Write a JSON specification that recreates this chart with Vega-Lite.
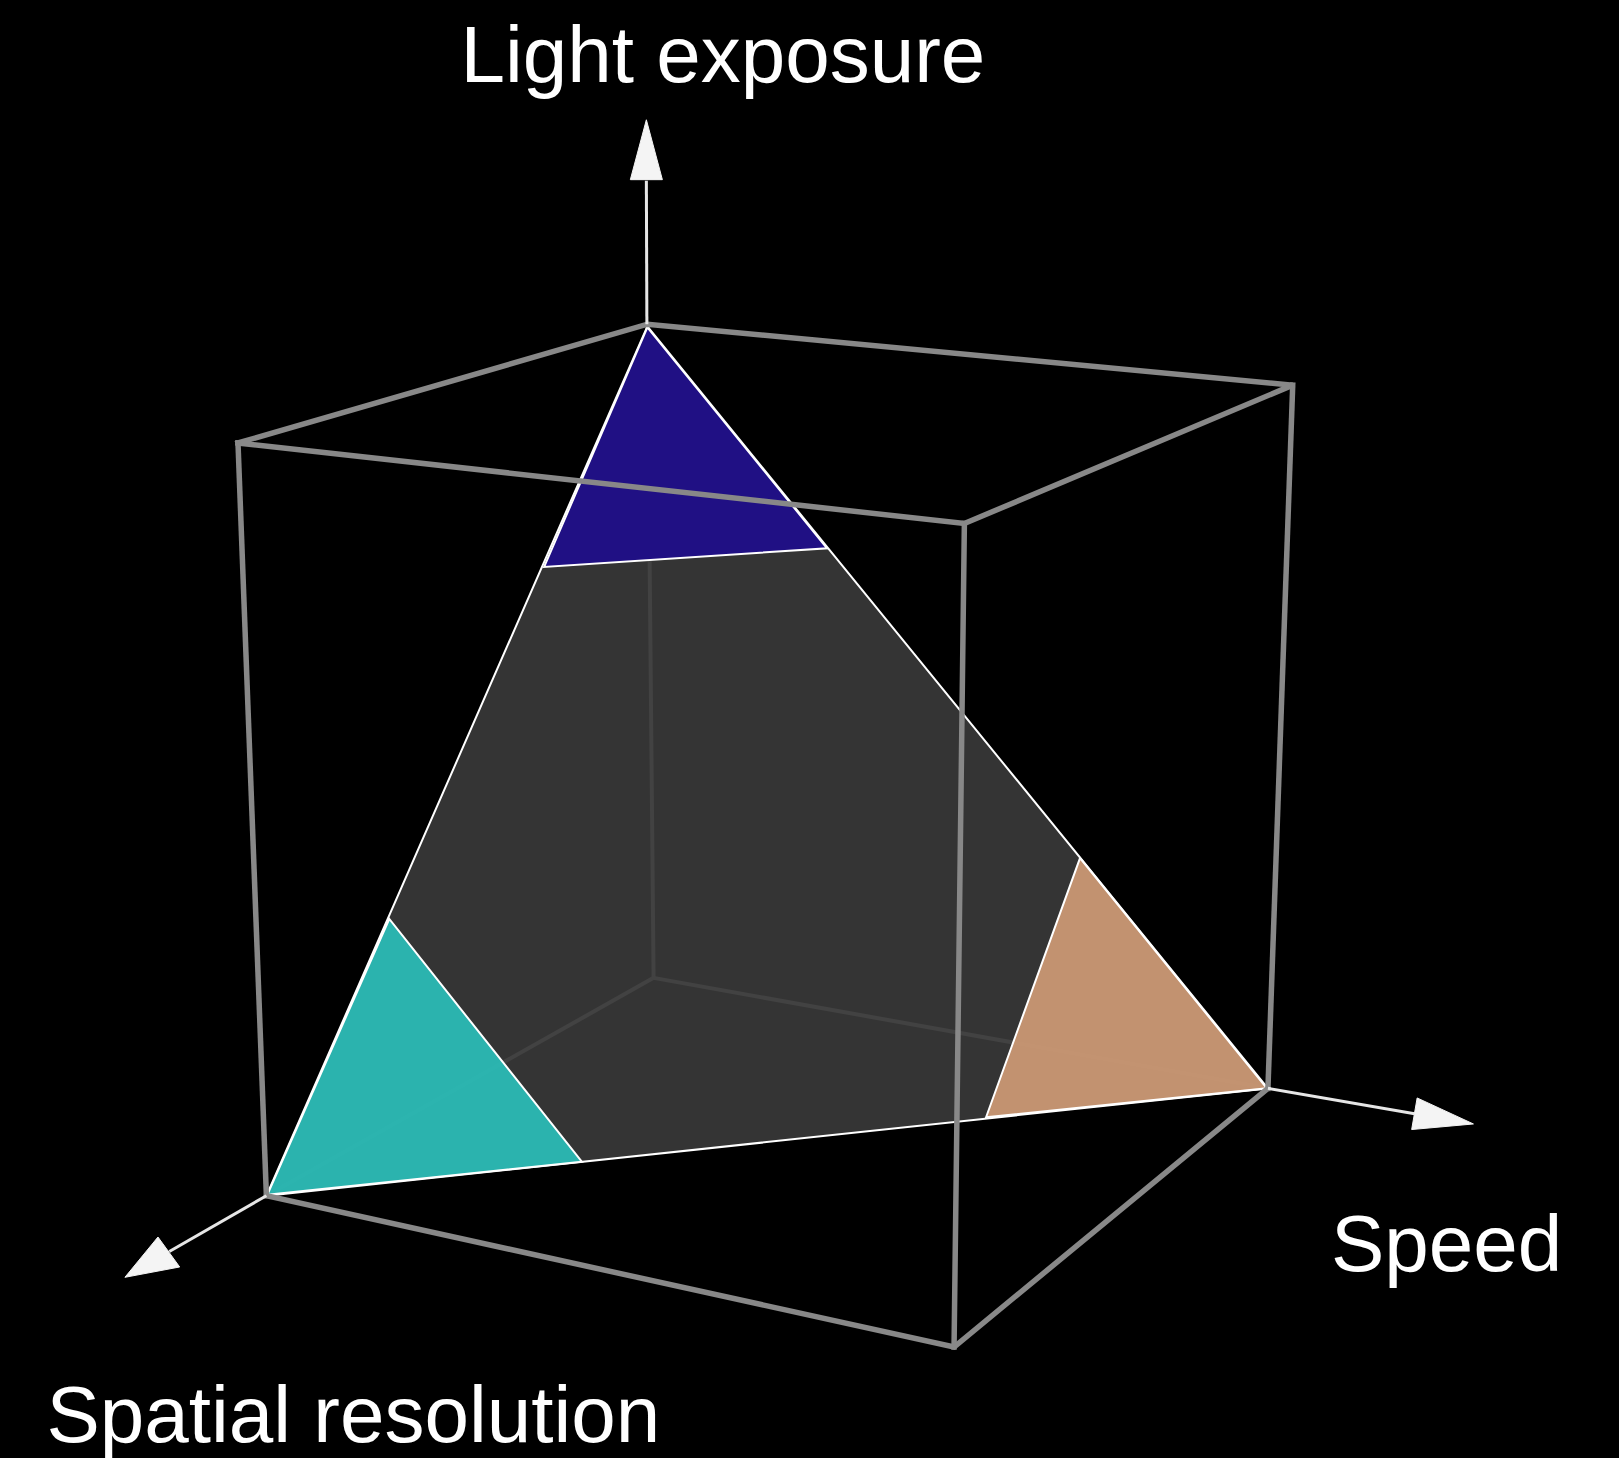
{
  "$schema": "https://vega.github.io/schema/vega-lite/v6.json",
  "width": 1619,
  "height": 1458,
  "padding": 0,
  "autosize": {"type": "none"},
  "background": "#000000",
  "config": {"view": {"stroke": null}},
  "data": {
    "values": [
      {"k": "hidden", "id": "h1", "o": 1, "x": 627, "y": 314},
      {"k": "hidden", "id": "h1", "o": 2, "x": 633, "y": 947},
      {"k": "hidden", "id": "h2", "o": 1, "x": 633, "y": 947},
      {"k": "hidden", "id": "h2", "o": 2, "x": 258, "y": 1158},
      {"k": "hidden", "id": "h3", "o": 1, "x": 633, "y": 947},
      {"k": "hidden", "id": "h3", "o": 2, "x": 1228, "y": 1054},

      {"k": "plane", "id": "p", "o": 1, "x": 627, "y": 316},
      {"k": "plane", "id": "p", "o": 2, "x": 258, "y": 1158},
      {"k": "plane", "id": "p", "o": 3, "x": 1228, "y": 1054},

      {"k": "blue", "id": "b", "o": 1, "x": 627, "y": 317},
      {"k": "blue", "id": "b", "o": 2, "x": 527, "y": 549},
      {"k": "blue", "id": "b", "o": 3, "x": 801, "y": 531},

      {"k": "teal", "id": "t", "o": 1, "x": 259, "y": 1157},
      {"k": "teal", "id": "t", "o": 2, "x": 377, "y": 890},
      {"k": "teal", "id": "t", "o": 3, "x": 563.5, "y": 1125},

      {"k": "tan", "id": "n", "o": 1, "x": 1227, "y": 1054},
      {"k": "tan", "id": "n", "o": 2, "x": 1046, "y": 831},
      {"k": "tan", "id": "n", "o": 3, "x": 955, "y": 1082},

      {"k": "edge", "id": "top", "o": 1, "x": 230.5, "y": 429},
      {"k": "edge", "id": "top", "o": 2, "x": 627, "y": 314},
      {"k": "edge", "id": "top", "o": 3, "x": 1252, "y": 373},
      {"k": "edge", "id": "top", "o": 4, "x": 934, "y": 507},
      {"k": "edge", "id": "top", "o": 5, "x": 230.5, "y": 429},
      {"k": "edge", "id": "left", "o": 1, "x": 230.5, "y": 429},
      {"k": "edge", "id": "left", "o": 2, "x": 258, "y": 1158},
      {"k": "edge", "id": "front", "o": 1, "x": 934, "y": 507},
      {"k": "edge", "id": "front", "o": 2, "x": 924, "y": 1304.5},
      {"k": "edge", "id": "right", "o": 1, "x": 1252, "y": 373},
      {"k": "edge", "id": "right", "o": 2, "x": 1228, "y": 1054},
      {"k": "edge", "id": "bottom", "o": 1, "x": 258, "y": 1158},
      {"k": "edge", "id": "bottom", "o": 2, "x": 924, "y": 1304.5},
      {"k": "edge", "id": "bottom", "o": 3, "x": 1228, "y": 1054},

      {"k": "axis", "id": "a1", "o": 1, "x": 626.5, "y": 314},
      {"k": "axis", "id": "a1", "o": 2, "x": 626, "y": 175},
      {"k": "axis", "id": "a2", "o": 1, "x": 1228, "y": 1054},
      {"k": "axis", "id": "a2", "o": 2, "x": 1370, "y": 1078.6},
      {"k": "axis", "id": "a3", "o": 1, "x": 258, "y": 1158},
      {"k": "axis", "id": "a3", "o": 2, "x": 164, "y": 1212},

      {"k": "head", "id": "hv", "o": 1, "x": 626, "y": 116},
      {"k": "head", "id": "hv", "o": 2, "x": 641.5, "y": 174},
      {"k": "head", "id": "hv", "o": 3, "x": 610.5, "y": 174},
      {"k": "head", "id": "hr", "o": 1, "x": 1427, "y": 1088.5},
      {"k": "head", "id": "hr", "o": 2, "x": 1372.5, "y": 1063.3},
      {"k": "head", "id": "hr", "o": 3, "x": 1367.2, "y": 1093.9},
      {"k": "head", "id": "hl", "o": 1, "x": 121, "y": 1237},
      {"k": "head", "id": "hl", "o": 2, "x": 174, "y": 1227},
      {"k": "head", "id": "hl", "o": 3, "x": 153, "y": 1198},

      {"k": "label", "id": "L1", "o": 1, "x": 446, "y": 79.5, "label": "Light exposure"},
      {"k": "label", "id": "L2", "o": 1, "x": 1289, "y": 1231, "label": "Speed"},
      {"k": "label", "id": "L3", "o": 1, "x": 45, "y": 1396.5, "label": "Spatial resolution"}
    ]
  },
  "encoding": {
    "x": {"field": "x", "type": "quantitative", "scale": {"domain": [0, 1568], "nice": false, "zero": false}, "axis": null},
    "y": {"field": "y", "type": "quantitative", "scale": {"domain": [0, 1412], "nice": false, "zero": false, "reverse": true}, "axis": null}
  },
  "layer": [
    {
      "transform": [{"filter": "datum.k === 'hidden'"}],
      "mark": {"type": "line", "stroke": "#8a8a8a", "strokeWidth": 4, "strokeCap": "round"},
      "encoding": {"detail": {"field": "id"}, "order": {"field": "o", "type": "quantitative"}}
    },
    {
      "transform": [{"filter": "datum.k === 'plane'"}],
      "mark": {"type": "line", "interpolate": "linear-closed", "fill": "#3a3a3a", "fillOpacity": 0.9, "stroke": "#ffffff", "strokeWidth": 2, "strokeJoin": "miter"},
      "encoding": {"order": {"field": "o", "type": "quantitative"}}
    },
    {
      "transform": [{"filter": "datum.k === 'teal'"}],
      "mark": {"type": "line", "interpolate": "linear-closed", "fill": "#2ac1bb", "fillOpacity": 0.9, "stroke": "#ffffff", "strokeWidth": 2, "strokeJoin": "miter"},
      "encoding": {"order": {"field": "o", "type": "quantitative"}}
    },
    {
      "transform": [{"filter": "datum.k === 'tan'"}],
      "mark": {"type": "line", "interpolate": "linear-closed", "fill": "#d19c77", "fillOpacity": 0.9, "stroke": "#ffffff", "strokeWidth": 2, "strokeJoin": "miter"},
      "encoding": {"order": {"field": "o", "type": "quantitative"}}
    },
    {
      "transform": [{"filter": "datum.k === 'blue'"}],
      "mark": {"type": "line", "interpolate": "linear-closed", "fill": "#201084", "fillOpacity": 1, "stroke": "#ffffff", "strokeWidth": 2, "strokeJoin": "miter"},
      "encoding": {"order": {"field": "o", "type": "quantitative"}}
    },
    {
      "transform": [{"filter": "datum.k === 'edge'"}],
      "mark": {"type": "line", "stroke": "#888888", "strokeWidth": 5.5, "strokeJoin": "miter", "strokeCap": "square"},
      "encoding": {"detail": {"field": "id"}, "order": {"field": "o", "type": "quantitative"}}
    },
    {
      "transform": [{"filter": "datum.k === 'axis'"}],
      "mark": {"type": "line", "stroke": "#e6e6e6", "strokeWidth": 3},
      "encoding": {"detail": {"field": "id"}, "order": {"field": "o", "type": "quantitative"}}
    },
    {
      "transform": [{"filter": "datum.k === 'head'"}],
      "mark": {"type": "line", "interpolate": "linear-closed", "fill": "#f4f4f4", "fillOpacity": 1, "stroke": "#f4f4f4", "strokeWidth": 1, "strokeJoin": "round"},
      "encoding": {"detail": {"field": "id"}, "order": {"field": "o", "type": "quantitative"}}
    },
    {
      "transform": [{"filter": "datum.k === 'label'"}],
      "mark": {"type": "text", "align": "left", "baseline": "alphabetic", "font": "Liberation Sans", "fontSize": 80, "color": "#ffffff"},
      "encoding": {"text": {"field": "label"}}
    }
  ]
}
